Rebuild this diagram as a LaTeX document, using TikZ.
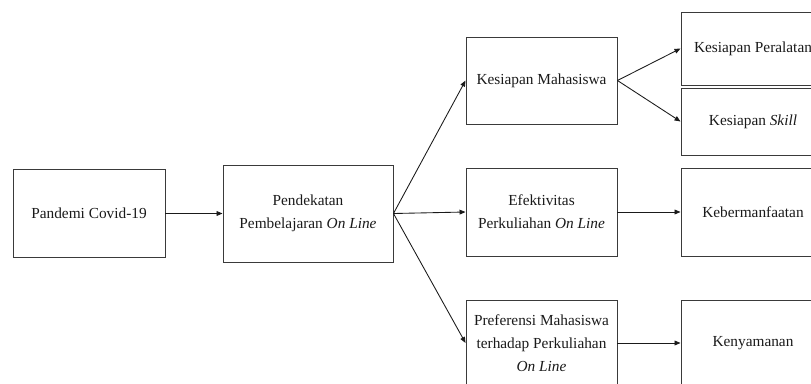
\documentclass[tikz,border=0pt]{standalone}
\usepackage{fontspec}
\setmainfont{Liberation Serif}
\usepackage{xcolor}
\usepackage{tikz}
\usetikzlibrary{arrows.meta}
\definecolor{ink}{HTML}{1A1A1A}
\definecolor{edge}{HTML}{3A3A3A}
\tikzset{
  box/.style={draw=edge, line width=0.7pt, rectangle, inner sep=0pt, align=center,
    text=ink, font=\fontsize{11.5}{17.25}\selectfont},
  arr/.style={draw=ink, line width=0.65pt, -{Triangle[length=4.5pt,width=3.6pt]}}
}
\begin{document}
\begin{tikzpicture}[x=0.75pt,y=-0.75pt]
  \clip (0,0) rectangle (811,383);

  % first and second step
  \node[box, minimum width=114pt, minimum height=66pt] (pandemi) at (89,213.5) {Pandemi Covid-19};
  \node[box, minimum width=127.5pt, minimum height=72.75pt] (pendekatan) at (308,213.5)
    {Pendekatan\\Pembelajaran \textit{On Line}};

  % middle column
  \node[box, minimum width=113.25pt, minimum height=65.25pt] (kesiapan) at (541.5,80.5) {Kesiapan Mahasiswa};
  \node[box, minimum width=113.25pt, minimum height=66pt] (efektivitas) at (541.5,212)
    {Efektivitas\\Perkuliahan \textit{On Line}};
  \node[box, minimum width=113.25pt, minimum height=64.5pt] (preferensi) at (541.5,343)
    {Preferensi Mahasiswa\\terhadap Perkuliahan\\\textit{On Line}};

  % right column (cut off by the page edge)
  \node[box, minimum width=108pt, minimum height=54.75pt] (peralatan) at (753,48.5) {Kesiapan Peralatan};
  \node[box, minimum width=108pt, minimum height=50.25pt] (skill) at (753,121.5) {Kesiapan \textit{Skill}};
  \node[box, minimum width=108pt, minimum height=66pt] (manfaat) at (753,212) {Kebermanfaatan};
  \node[box, minimum width=108pt, minimum height=64.5pt] (nyaman) at (753,343) {Kenyamanan};

  \draw[arr] (pandemi.east) -- (pendekatan.west);
  \draw[arr] (pendekatan.east) -- (kesiapan.west);
  \draw[arr] (pendekatan.east) -- (efektivitas.west);
  \draw[arr] (pendekatan.east) -- (preferensi.west);
  \draw[arr] (kesiapan.east) -- (peralatan.west);
  \draw[arr] (kesiapan.east) -- (skill.west);
  \draw[arr] (efektivitas.east) -- (manfaat.west);
  \draw[arr] (preferensi.east) -- (nyaman.west);
\end{tikzpicture}
\end{document}
